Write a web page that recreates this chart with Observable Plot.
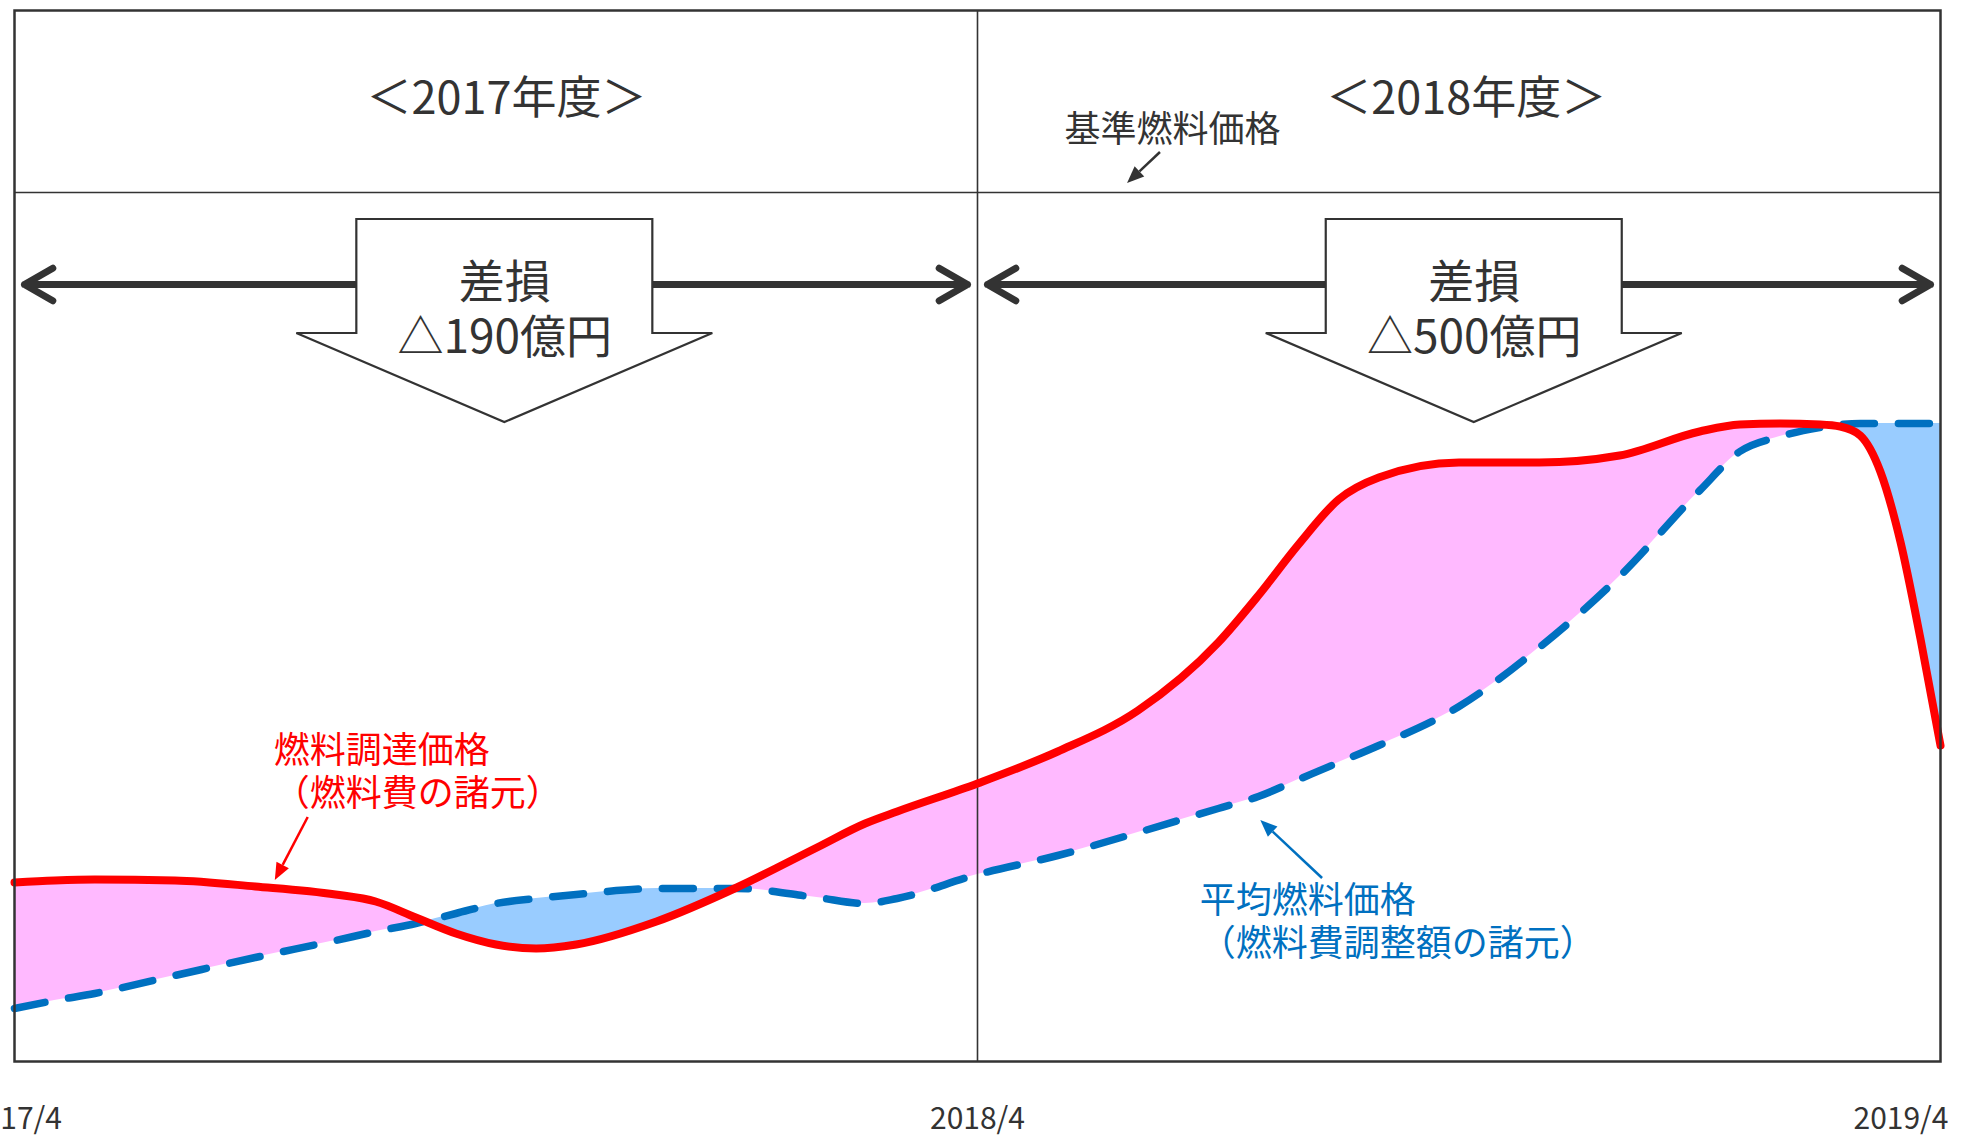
<!DOCTYPE html>
<html><head><meta charset="utf-8">
<script src="https://cdn.jsdelivr.net/npm/d3@7"></script>
<script src="https://cdn.jsdelivr.net/npm/@observablehq/plot@0.6"></script>
<style>
html,body{margin:0;padding:0;background:#fff;}
#chart svg{display:block;}
</style></head><body><div id="chart"></div>
<script>
// ---- data (months since 2017/4, fuel price index) ----
const months = [0,0.5,1,2,3,4,4.5,5,5.5,6,6.5,7,8,9,10,10.6,11,12,13,14,15,15.5,16,16.5,17,18,19,20,21,21.5,22,22.5,22.75,23,23.25,23.5,23.75,24];
const procurementPrice = [17.9,18.1,18.2,18.1,17.5,16.7,16.0,14.4,12.8,11.7,11.3,11.7,14.0,17.4,21.4,23.8,25.0,27.8,31.0,35.1,41.9,46.6,51.7,56.2,58.4,59.9,59.9,60.6,63.0,63.7,63.8,63.7,63.5,62.6,59.0,52.0,42.3,31.6];
const averagePrice = [5.3,6.1,6.8,8.6,10.4,12.1,13.0,13.8,14.8,15.8,16.3,16.7,17.3,17.3,16.4,15.8,16.3,18.7,20.6,22.9,25.3,26.5,28.2,29.9,31.6,35.5,41.4,48.5,57.1,61.0,62.5,63.4,63.7,63.8,63.8,63.8,63.8,63.8];
const basePrice = 86.9;

const fiscalYears = ["＜2017年度＞", "＜2018年度＞"];
const fyStart = [0, 12];
const fyEnd = [12, 24];
const fyTitleX = [6.13, 18.09];
const lossLabels = ["差損\n△190億円", "差損\n△500億円"];
const lossX = [6.11, 18.19];

const tickMonths = [0, 12, 24];
const tickLabels = ["2017/4", "2018/4", "2019/4"];

const seriesLabelText = ["燃料調達価格\n（燃料費の諸元）", "平均燃料価格\n（燃料費調整額の諸元）"];
const seriesLabelX = [3.23, 14.77];
const seriesLabelY = [29.1, 14.1];
const seriesLabelColor = ["#FF0000", "#0070C0"];

const baseLabel = "基準燃料価格";
const baseLabelX = 14.43, baseLabelY = 93.1;

// pointer arrows: [x1, y1] -> [x2, y2] (tip)
const pointerFrom = [[3.66, 24.4], [16.3, 18.3], [14.28, 90.9]];
const pointerTo = [[3.25, 18.1], [15.53, 24.1], [13.87, 87.8]];
const pointerColor = ["#FF0000", "#0070C0", "#333333"];

// annotation levels (index units)
const titleY = 96.2, spanY = 77.7, lossTop = 84.2, lossTextY = 75.4;

// ---- build ----
const ink = "#333333";
const font = "'Noto Sans CJK JP','Noto Sans',sans-serif";
const rows = months.map((m, i) => ({m, red: procurementPrice[i], blue: averagePrice[i]}));
const fy = fiscalYears.map((label, i) => ({label, start: fyStart[i], end: fyEnd[i], titleX: fyTitleX[i], lossX: lossX[i], loss: lossLabels[i]}));
const spans = fy.flatMap(d => [{x1: d.lossX, x2: d.start}, {x1: d.lossX, x2: d.end}]);
const seriesLabels = seriesLabelText.map((t, i) => ({t, x: seriesLabelX[i], y: seriesLabelY[i], c: seriesLabelColor[i]}));
const ticks = tickMonths.map((m, i) => ({m, label: tickLabels[i]}));
const pointers = pointerFrom.map((f, i) => ({x1: f[0], y1: f[1], x2: pointerTo[i][0], y2: pointerTo[i][1], c: pointerColor[i]}));

const PINK = "#FFB9FF", LIGHTBLUE = "#99CCFF";
const curve = "monotone-x";

const fillMarks = (typeof Plot.differenceY === "function")
  ? [Plot.differenceY(rows, {x: "m", y1: "blue", y2: "red", positiveFill: PINK, negativeFill: LIGHTBLUE, fillOpacity: 1, stroke: "none", curve})]
  : [
      Plot.areaY(rows, {x: "m", y1: "blue", y2: d => Math.max(d.red, d.blue), fill: PINK, curve}),
      Plot.areaY(rows, {x: "m", y1: "red", y2: d => Math.max(d.red, d.blue), fill: LIGHTBLUE, curve})
    ];

function blockArrows(index, scales) {
  const g = d3.create("svg:g");
  for (const d of fy) {
    const cx = scales.x(d.lossX), top = scales.y(lossTop);
    const hw = 148, ww = 208, sh = 114, tip = 203;
    const pts = [[cx - hw, top], [cx + hw, top], [cx + hw, top + sh], [cx + ww, top + sh], [cx, top + tip], [cx - ww, top + sh], [cx - hw, top + sh]];
    g.append("path").attr("d", "M" + pts.map(p => p.join(",")).join("L") + "Z")
      .attr("fill", "#fff").attr("stroke", ink).attr("stroke-width", 2.2);
  }
  return g.node();
}

function pointerArrows(index, scales) {
  const g = d3.create("svg:g");
  for (const p of pointers) {
    const x1 = scales.x(p.x1), y1 = scales.y(p.y1), x2 = scales.x(p.x2), y2 = scales.y(p.y2);
    const a = Math.atan2(y2 - y1, x2 - x1);
    const L = 17, Wd = 7;
    const bx = x2 - L * Math.cos(a), by = y2 - L * Math.sin(a);
    g.append("line").attr("x1", x1).attr("y1", y1).attr("x2", bx).attr("y2", by)
      .attr("stroke", p.c).attr("stroke-width", 2.5);
    g.append("path")
      .attr("d", `M${x2},${y2}L${bx + Wd * Math.sin(a)},${by - Wd * Math.cos(a)}L${bx - Wd * Math.sin(a)},${by + Wd * Math.cos(a)}Z`)
      .attr("fill", p.c);
  }
  return g.node();
}

const chart = Plot.plot({
  width: 1961,
  height: 1136,
  marginLeft: 14,
  marginRight: 21,
  marginTop: 10,
  marginBottom: 75,
  x: {domain: [0, 24], axis: null},
  y: {domain: [0, 105.1], axis: null},
  style: {fontFamily: font, background: "#fff", color: ink},
  marks: [
    ...fillMarks,
    Plot.ruleY([basePrice], {stroke: ink, strokeWidth: 1.6}),
    Plot.ruleX([12], {stroke: ink, strokeWidth: 1.6}),
    Plot.line(rows, {x: "m", y: "blue", stroke: "#0070C0", strokeWidth: 7.5, strokeDasharray: "31,24", curve}),
    Plot.line(rows, {x: "m", y: "red", stroke: "#FF0000", strokeWidth: 8, strokeLinejoin: "round", curve}),
    Plot.arrow(spans, {x1: "x1", x2: "x2", y1: () => spanY, y2: () => spanY, stroke: ink, strokeWidth: 7, headLength: 7, headAngle: 60, insetEnd: 10, strokeLinecap: "round", strokeLinejoin: "round"}),
    blockArrows,
    Plot.text(fy, {x: "lossX", y: () => lossTextY, text: "loss", fontSize: 46, lineHeight: 1.2, fill: ink}),
    Plot.text(fy, {x: "titleX", y: () => titleY, text: "label", fontSize: 45, fill: ink}),
    Plot.text([baseLabel], {x: () => baseLabelX, y: () => baseLabelY, text: d => d, fontSize: 36, fill: ink}),
    Plot.text(seriesLabels, {x: "x", y: "y", text: "t", fill: "c", fontSize: 36, lineHeight: 1.2, textAnchor: "start"}),
    pointerArrows,
    Plot.text(ticks.slice(0, 2), {x: "m", text: "label", frameAnchor: "bottom", dy: 67, fontSize: 30, fill: ink}),
    Plot.text(ticks.slice(2), {x: "m", text: "label", frameAnchor: "bottom", dy: 67, dx: 8, textAnchor: "end", fontSize: 30, fill: ink}),
    Plot.frame({stroke: ink, strokeWidth: 2.5})
  ]
});
document.getElementById("chart").appendChild(chart);
</script>
</body></html>
